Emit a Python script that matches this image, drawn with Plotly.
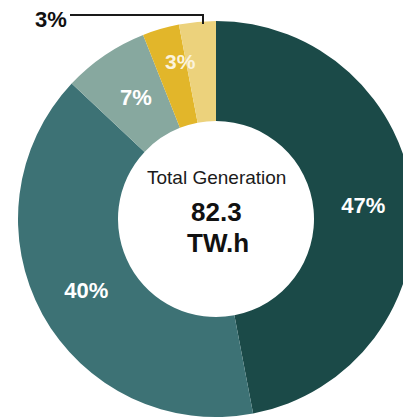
import plotly.graph_objects as go

# Generation mix (share of total, %)
segments = ["Segment A", "Segment B", "Segment C", "Segment D", "Segment E"]
shares = [47, 40, 7, 3, 3]
colors = ["#1b4a48", "#3d7275", "#87a89f", "#e2b62a", "#ecd27c"]

total_generation = 82.3
total_unit = "TW.h"
center_title = "Total Generation"

W, H = 414, 419
FONT = "Arial, 'Liberation Sans', sans-serif"


def px(x):
    return x / W


def py(y):
    return 1 - y / H


# Inside labels for the two largest slices; the smaller slices are labelled separately
texts = [f"{v}%" if v >= 10 else "" for v in shares]

fig = go.Figure(
    go.Pie(
        labels=segments,
        values=shares,
        sort=False,
        direction="clockwise",
        rotation=0,
        hole=0.495,
        marker=dict(colors=colors, line=dict(width=0)),
        text=texts,
        textinfo="text",
        textposition="inside",
        insidetextorientation="horizontal",
        textfont=dict(family=FONT, size=22, color="white", weight="bold"),
        domain=dict(x=[px(18), 1], y=[2 / H, 398 / H]),
        showlegend=False,
        hoverinfo="label+percent",
    )
)

annotations = [
    dict(x=px(216), y=py(177), text=center_title,
         font=dict(family=FONT, size=19, color="#1a1a1a")),
    dict(x=px(216), y=py(212), text=f"<b>{total_generation}</b>",
         font=dict(family=FONT, size=26, color="#111111")),
    dict(x=px(218), y=py(243), text=f"<b>{total_unit}</b>",
         font=dict(family=FONT, size=26, color="#111111")),
    # smaller slice labels
    dict(x=px(136), y=py(97), text=f"<b>{shares[2]}%</b>",
         font=dict(family=FONT, size=22, color="white")),
    dict(x=px(180), y=py(62), text=f"<b>{shares[3]}%</b>",
         font=dict(family=FONT, size=21, color="#fbf3dc")),
    dict(x=px(51), y=py(20), text=f"<b>{shares[4]}%</b>",
         font=dict(family=FONT, size=22, color="#111111")),
]
for a in annotations:
    a.update(xref="paper", yref="paper", xanchor="center", yanchor="middle",
             showarrow=False)

fig.update_layout(
    width=W,
    height=H,
    margin=dict(l=0, r=0, t=0, b=0),
    paper_bgcolor="white",
    plot_bgcolor="white",
    annotations=annotations,
    shapes=[
        dict(type="path", xref="paper", yref="paper",
             path=f"M {px(70)},{py(15)} L {px(203)},{py(15)} L {px(203)},{py(24)}",
             line=dict(color="#1a1a1a", width=2)),
    ],
)

fig.write_html("out.html")
